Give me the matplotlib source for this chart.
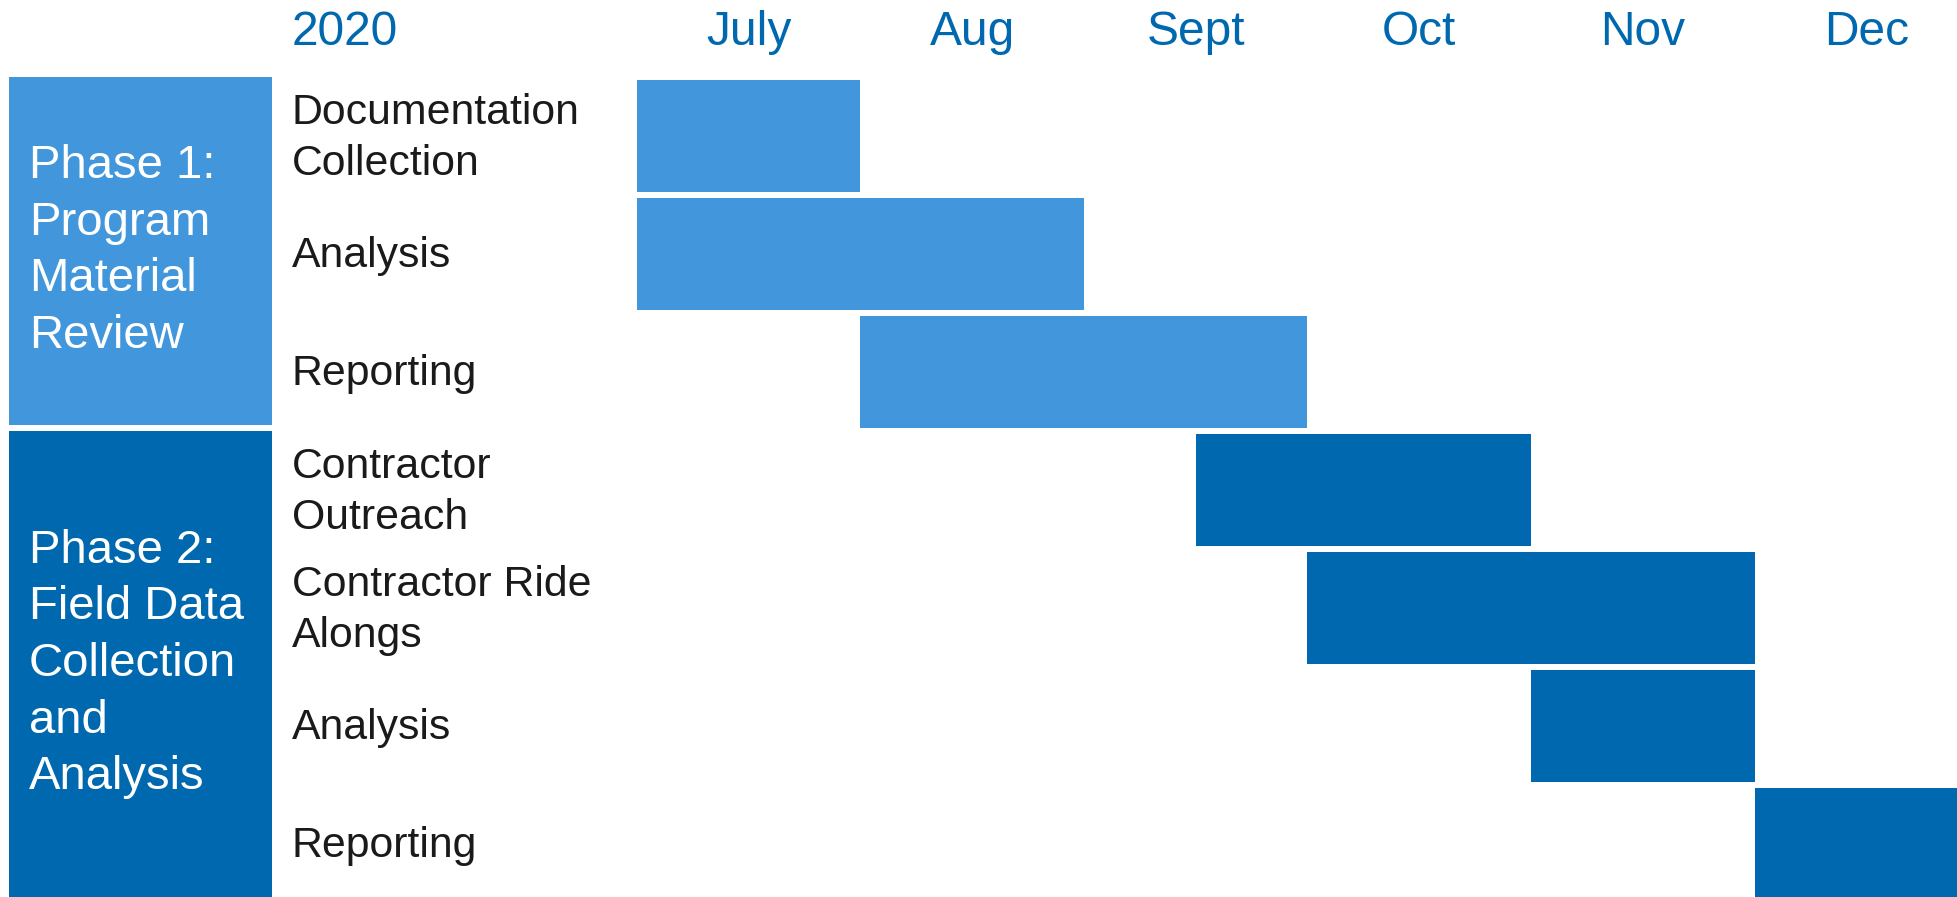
import matplotlib
matplotlib.use("Agg")
import matplotlib.pyplot as plt
from matplotlib.patches import Rectangle

# ---- data ----
year = "2020"
months = ["July", "Aug", "Sept", "Oct", "Nov", "Dec"]
tasks = ["Documentation\nCollection", "Analysis", "Reporting",
         "Contractor\nOutreach", "Contractor Ride\nAlongs", "Analysis", "Reporting"]
task_start = [0, 0, 1, 2.5, 3, 4, 5]          # months after 1 July
task_duration = [1, 2, 2, 1.5, 2, 1, 1]       # months
task_phase = [0, 0, 0, 1, 1, 1, 1]
phases = ["Phase 1:\nProgram\nMaterial\nReview",
          "Phase 2:\nField Data\nCollection\nand\nAnalysis"]

# ---- style ----
LIGHT = "#4196DC"
DARK = "#0068AF"
phase_colors = [LIGHT, DARK]
FONT = "Liberation Sans"

W, H = 1957, 897
fig = plt.figure(figsize=(W / 100, H / 100), dpi=100)
ax = fig.add_axes([0, 0, 1, 1])

# axis ranges chosen so that months / rows fall where the reference puts them
ax.set_xlim(-2.850, 5.906)
ax.set_ylim(6.449, -1.1525)
ax.axis("off")

rows = list(range(len(tasks)))
ax.barh(rows, task_duration, left=task_start, height=0.95,
        color=[phase_colors[p] for p in task_phase], edgecolor="none", zorder=2)

# task labels
label_x = -1.544
for r, t in zip(rows, tasks):
    ax.text(label_x, r + 0.02, t, ha="left", va="center", fontsize=30.8,
            family=FONT, color="#1a1a1a", linespacing=1.36)

# phase boxes
box_left, box_right = -2.810, -1.633
for p, name in enumerate(phases):
    prow = [r for r in rows if task_phase[r] == p]
    top = prow[0] - 0.5
    bottom = prow[-1] + 0.45 if p < len(phases) - 1 else prow[-1] + 0.6
    ax.add_patch(Rectangle((box_left, top), box_right - box_left, bottom - top,
                           facecolor=phase_colors[p], edgecolor="none", zorder=1))
    ax.text(-2.720, (top + min(bottom, 6.449)) / 2, name, ha="left", va="center",
            fontsize=34, family=FONT, color="white", linespacing=1.37, zorder=3)

# month header
head_y = -0.771
for i, m in enumerate(months):
    ax.text(i + 0.5, head_y, m, ha="center", va="baseline", fontsize=34.5,
            family=FONT, color=DARK)
ax.text(label_x, head_y, year, ha="left", va="baseline", fontsize=34.5,
        family=FONT, color=DARK)

fig.savefig("out.png", dpi=100, facecolor="white")
